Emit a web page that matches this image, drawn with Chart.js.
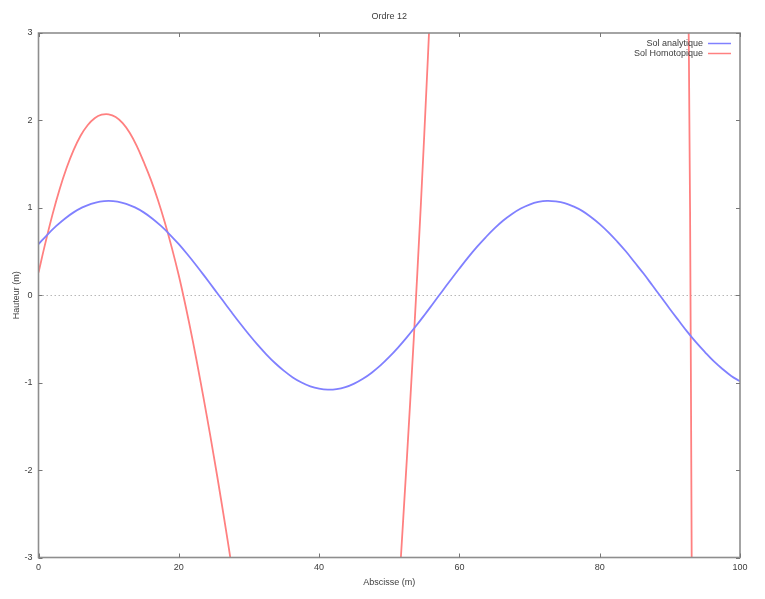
<!DOCTYPE html>
<html>
<head>
<meta charset="utf-8">
<script src="https://cdn.jsdelivr.net/npm/chart.js@4/dist/chart.umd.min.js"></script>
<style>
html,body{margin:0;padding:0;background:#fff;}
#wrap{width:765px;height:599px;position:relative;}
</style>
</head>
<body>
<div id="wrap"><canvas id="c" width="765" height="599"></canvas></div>
<script>
const chartTitle = 'Ordre 12';
const xTitle = 'Abscisse (m)';
const yTitle = 'Hauteur (m)';
const seriesNames = ['Sol analytique', 'Sol Homotopique'];
const xTicks = [0, 20, 40, 60, 80, 100];
const yTicks = [-3, -2, -1, 0, 1, 2, 3];

const blueX = [0,1.25,2.5,3.75,5,6.25,7.5,8.75,10,11.25,12.5,13.75,15,16.25,17.5,18.75,20,21.25,22.5,23.75,25,26.25,27.5,28.75,30,31.25,32.5,33.75,35,36.25,37.5,38.75,40,41.25,42.5,43.75,45,46.25,47.5,48.75,50,51.25,52.5,53.75,55,56.25,57.5,58.75,60,61.25,62.5,63.75,65,66.25,67.5,68.75,70,71.25,72.5,73.75,75,76.25,77.5,78.75,80,81.25,82.5,83.75,85,86.25,87.5,88.75,90,91.25,92.5,93.75,95,96.25,97.5,98.75,100];
const blueY = [0.584,0.692,0.790,0.876,0.948,1.005,1.046,1.072,1.080,1.072,1.046,1.005,0.948,0.876,0.790,0.692,0.584,0.466,0.341,0.210,0.076,-0.058,-0.192,-0.323,-0.449,-0.568,-0.678,-0.778,-0.865,-0.940,-0.998,-1.042,-1.069,-1.080,-1.074,-1.051,-1.011,-0.956,-0.886,-0.803,-0.706,-0.599,-0.482,-0.358,-0.228,-0.094,0.041,0.175,0.306,0.433,0.553,0.663,0.765,0.855,0.930,0.992,1.037,1.067,1.080,1.074,1.055,1.016,0.965,0.895,0.814,0.720,0.614,0.500,0.374,0.248,0.114,-0.021,-0.157,-0.289,-0.419,-0.540,-0.650,-0.754,-0.843,-0.923,-0.984];

const redX = [0,1,2,3,4,5,6,7,8,9,10,11,12,13,14,15,16,17,18,19,20,21,22,23,24,25,26,27,28,29,30,35,40,45,48,49,50,51,52,53,54,55,56,57,60,70,80,88,91,92.1,92.4,92.7,93,93.3,93.6,96,100];
const redY = [0.26,0.605,0.925,1.21,1.455,1.66,1.825,1.945,2.025,2.065,2.07,2.04,1.97,1.86,1.71,1.525,1.325,1.095,0.835,0.545,0.225,-0.135,-0.525,-0.945,-1.385,-1.845,-2.325,-2.825,-3.345,-3.88,-4.44,-7.8,-9.5,-9,-7.4,-6.3,-5.1,-3.85,-2.55,-1.2,0.25,1.85,3.6,5.5,11,18,16,11,8,5.5,4.4,2.9,-0.9,-7,-14,-30,-60];

const FONT = '"Liberation Sans", Arial, sans-serif';
const TXT = '#3c3c3c';
const FRAME = '#8e8e8e';
const FS = 9;

function pts(xs, ys){ return xs.map((x,i)=>({x:x, y:ys[i]})); }

const gnuplotDecor = {
  id: 'gnuplotDecor',
  beforeDatasetsDraw(chart){
    const {ctx, chartArea:a, scales:{y}} = chart;
    ctx.save();
    const y0 = y.getPixelForValue(0);
    ctx.strokeStyle = '#b8b8b8';
    ctx.lineWidth = 1;
    ctx.setLineDash([1.5, 2.5]);
    ctx.beginPath();
    ctx.moveTo(a.left, Math.round(y0)+0.5);
    ctx.lineTo(a.right, Math.round(y0)+0.5);
    ctx.stroke();
    ctx.restore();
  },
  afterDatasetsDraw(chart){
    const {ctx, chartArea:a, scales:{x, y}} = chart;
    ctx.save();
    ctx.strokeStyle = FRAME;
    ctx.lineWidth = 1.6;
    ctx.setLineDash([]);
    ctx.strokeRect(a.left, a.top, a.right - a.left, a.bottom - a.top);
    ctx.lineWidth = 1;
    ctx.strokeStyle = '#777';
    const tl = 4;
    ctx.beginPath();
    xTicks.forEach(v=>{
      const px = Math.round(x.getPixelForValue(v)) + 0.5;
      ctx.moveTo(px, a.bottom); ctx.lineTo(px, a.bottom - tl);
      ctx.moveTo(px, a.top); ctx.lineTo(px, a.top + tl);
    });
    yTicks.forEach(v=>{
      const py = Math.round(y.getPixelForValue(v)) + 0.5;
      ctx.moveTo(a.left, py); ctx.lineTo(a.left + tl, py);
      ctx.moveTo(a.right, py); ctx.lineTo(a.right - tl, py);
    });
    ctx.stroke();
    ctx.fillStyle = TXT;
    ctx.font = FS + 'px ' + FONT;
    ctx.textAlign = 'center';
    ctx.textBaseline = 'middle';
    ctx.fillText(chartTitle, (a.left + a.right)/2, 17);
    ctx.fillText(xTitle, (a.left + a.right)/2, 583);
    ctx.save();
    ctx.translate(17, (a.top + a.bottom)/2);
    ctx.rotate(-Math.PI/2);
    ctx.fillText(yTitle, 0, 0);
    ctx.restore();
    const ds = chart.data.datasets;
    ds.forEach((d, i)=>{
      const ly = 43.5 + i*10;
      ctx.textAlign = 'right';
      ctx.fillStyle = TXT;
      ctx.fillText(d.label, 703, ly);
      ctx.strokeStyle = d.borderColor;
      ctx.lineWidth = 1.5;
      ctx.beginPath();
      ctx.moveTo(708, ly); ctx.lineTo(731, ly);
      ctx.stroke();
    });
    ctx.restore();
  }
};

new Chart(document.getElementById('c'), {
  type: 'line',
  data: {
    datasets: [
      { label: seriesNames[0], data: pts(blueX, blueY), borderColor: '#8080ff', borderWidth: 1.8,
        pointRadius: 0, tension: 0.4, fill: false },
      { label: seriesNames[1], data: pts(redX, redY), borderColor: '#ff8080', borderWidth: 1.8,
        pointRadius: 0, tension: 0.4, fill: false }
    ]
  },
  options: {
    responsive: false,
    animation: false,
    devicePixelRatio: 1,
    elements: { line: { capBezierPoints: false } },
    layout: { padding: { top: 33, right: 25, left: 0, bottom: 0 } },
    plugins: { legend: { display: false }, title: { display: false }, tooltip: { enabled: false } },
    scales: {
      x: {
        type: 'linear', min: 0, max: 100,
        grid: { display: false, drawTicks: false },
        border: { display: false },
        ticks: { stepSize: 20, color: TXT, font: { family: FONT, size: FS }, padding: 5, maxRotation: 0 },
        afterFit(s){ s.height = 41.5; }
      },
      y: {
        type: 'linear', min: -3, max: 3,
        grid: { display: false, drawTicks: false },
        border: { display: false },
        ticks: { stepSize: 1, color: TXT, font: { family: FONT, size: FS }, padding: 6 },
        afterFit(s){ s.width = 38.5; }
      }
    }
  },
  plugins: [gnuplotDecor]
});
</script>
</body>
</html>
